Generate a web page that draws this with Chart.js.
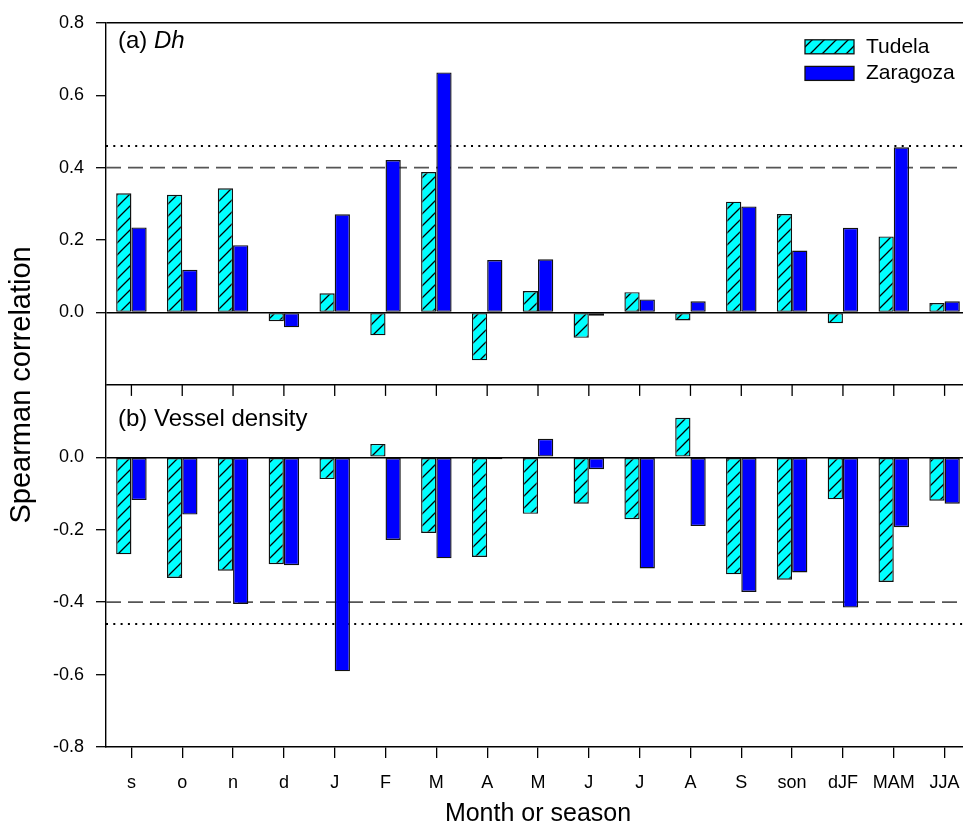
<!DOCTYPE html>
<html>
<head>
<meta charset="utf-8">
<script src="https://cdn.jsdelivr.net/npm/chart.js@4.4.1/dist/chart.umd.min.js"></script>
<style>
  html, body { margin: 0; padding: 0; background: #fff; overflow: hidden; }
  #chart { display: block; }
</style>
</head>
<body>
<canvas id="chart" width="980" height="834"></canvas>
<script>
const months = ['s', 'o', 'n', 'd', 'J', 'F', 'M', 'A', 'M', 'J', 'J', 'A', 'S', 'son', 'dJF', 'MAM', 'JJA'];

// (a) Dh
const dhTudela   = [0.329, 0.325, 0.343, -0.024, 0.053, -0.063, 0.388, -0.132, 0.059, -0.070, 0.056, -0.022, 0.306, 0.272, -0.030, 0.210, 0.026];
const dhZaragoza = [0.235, 0.118, 0.186, -0.041, 0.271, 0.421, 0.663, 0.145, 0.147, -0.009, 0.036, 0.031, 0.293, 0.171, 0.234, 0.456, 0.031];

// (b) Vessel density
const vdTudela   = [-0.268, -0.333, -0.313, -0.295, -0.060, 0.037, -0.209, -0.275, -0.156, -0.128, -0.171, 0.109, -0.323, -0.338, -0.116, -0.344, -0.120];
const vdZaragoza = [-0.118, -0.158, -0.405, -0.298, -0.591, -0.228, -0.279, -0.005, 0.051, -0.033, -0.307, -0.190, -0.372, -0.318, -0.415, -0.193, -0.128];

// significance levels (dashed, dotted)
const sigDashed = 0.40;
const sigDotted = 0.46;

const FONT = "'Liberation Sans', Arial, sans-serif";
Chart.defaults.font.family = FONT;
Chart.defaults.color = '#000';

const canvas = document.getElementById('chart');
const ctx = canvas.getContext('2d');

// cyan with black "/" hatching, like the Tudela bars
function hatchPattern() {
  const c = document.createElement('canvas');
  c.width = 12; c.height = 12;
  const g = c.getContext('2d');
  g.fillStyle = '#00ffff';
  g.fillRect(0, 0, 12, 12);
  g.strokeStyle = '#000';
  g.lineWidth = 1.3;
  g.beginPath();
  g.moveTo(0, 12); g.lineTo(12, 0);
  g.moveTo(-1, 1); g.lineTo(1, -1);
  g.moveTo(11, 13); g.lineTo(13, 11);
  g.stroke();
  return ctx.createPattern(c, 'repeat');
}
const hatch = hatchPattern();

const tenth = v => Math.round(v * 10);
const clear = 'rgba(0,0,0,0)';

function tickLabel(skip) {
  return v => {
    const t = tenth(v);
    if (t % 2 !== 0 || t === skip) return '';
    return (t / 10).toFixed(1);
  };
}

function yScale(min, max, skip, lines, weight) {
  return {
    type: 'linear',
    position: 'left',
    stack: 'panels',
    weight: weight,
    min: min,
    max: max,
    ticks: { stepSize: 0.1, callback: tickLabel(skip), padding: 12, font: { size: 18 }, color: '#000' },
    grid: {
      color: c => lines.includes(tenth(c.tick.value)) ? '#000' : clear,
      tickColor: c => {
        const t = tenth(c.tick.value);
        return (t % 2 === 0 && t !== skip) ? '#000' : clear;
      },
      lineWidth: 1.4,
      tickWidth: 1.3,
      tickLength: 10
    },
    border: { color: '#000', width: 1.4 },
    afterFit: s => { s.width = 106; }
  };
}

const barStyle = { borderColor: '#111', borderWidth: 1.4, borderSkipped: false };

const decor = {
  id: 'decor',
  beforeDatasetsDraw(chart) {
    const { ctx, chartArea, scales } = chart;
    ctx.save();
    [[scales.yA, 1], [scales.yB, -1]].forEach(([s, sign]) => {
      let y = s.getPixelForValue(sign * sigDashed);
      ctx.setLineDash([15, 7]);
      ctx.strokeStyle = '#555';
      ctx.lineWidth = 1.6;
      ctx.beginPath(); ctx.moveTo(chartArea.left, y); ctx.lineTo(chartArea.right, y); ctx.stroke();
      y = s.getPixelForValue(sign * sigDotted);
      ctx.setLineDash([2, 5.3]);
      ctx.strokeStyle = '#000';
      ctx.lineWidth = 2;
      ctx.beginPath(); ctx.moveTo(chartArea.left, y); ctx.lineTo(chartArea.right, y); ctx.stroke();
    });
    ctx.restore();
  },
  afterDraw(chart) {
    const { ctx, chartArea, scales } = chart;
    const { x, yA, yB } = scales;
    ctx.save();
    ctx.strokeStyle = '#000';
    ctx.lineWidth = 1.3;

    // minor ticks on the y axes
    [yA, yB].forEach(s => {
      s.ticks.forEach(t => {
        if (tenth(t.value) % 2 === 0) return;
        const y = s.getPixelForValue(t.value);
        ctx.beginPath(); ctx.moveTo(s.right - 6, y); ctx.lineTo(s.right, y); ctx.stroke();
      });
    });

    // x ticks under the upper panel
    x.ticks.forEach((t, i) => {
      const px = x.getPixelForTick(i);
      ctx.beginPath(); ctx.moveTo(px, yA.bottom); ctx.lineTo(px, yA.bottom + 11); ctx.stroke();
    });

    // panel labels
    ctx.fillStyle = '#000';
    ctx.textBaseline = 'middle';
    ctx.textAlign = 'left';
    ctx.font = '24px ' + FONT;
    const lx = chartArea.left + 12;
    ctx.fillText('(a) ', lx, yA.top + 19);
    const w = ctx.measureText('(a) ').width;
    ctx.font = 'italic 24px ' + FONT;
    ctx.fillText('Dh', lx + w, yA.top + 19);
    ctx.font = '24px ' + FONT;
    ctx.fillText('(b) Vessel density', lx, yB.top + 34);

    // legend
    ctx.font = '21px ' + FONT;
    chart.data.datasets.slice(0, 2).forEach((ds, i) => {
      const bx = chartArea.right - 165;
      const by = chartArea.top + 17 + i * 26.6;
      ctx.fillStyle = ds.backgroundColor;
      ctx.fillRect(bx, by, 49, 14);
      ctx.strokeStyle = '#111';
      ctx.lineWidth = 1.3;
      ctx.strokeRect(bx, by, 49, 14);
      ctx.fillStyle = '#000';
      ctx.fillText(ds.label, bx + 61, by + 7);
    });

    // shared y title
    ctx.translate(22, (chartArea.top + chartArea.bottom) / 2);
    ctx.rotate(-Math.PI / 2);
    ctx.textAlign = 'center';
    ctx.font = '29px ' + FONT;
    ctx.fillText('Spearman correlation', 0, 0);
    ctx.restore();
  }
};

new Chart(ctx, {
  type: 'bar',
  data: {
    labels: months,
    datasets: [
      { label: 'Tudela', data: dhTudela, yAxisID: 'yA', stack: 'T', backgroundColor: hatch, ...barStyle },
      { label: 'Zaragoza', data: dhZaragoza, yAxisID: 'yA', stack: 'Z', backgroundColor: '#0000ff', ...barStyle },
      { label: 'Tudela', data: vdTudela, yAxisID: 'yB', stack: 'T', backgroundColor: hatch, ...barStyle },
      { label: 'Zaragoza', data: vdZaragoza, yAxisID: 'yB', stack: 'Z', backgroundColor: '#0000ff', ...barStyle }
    ]
  },
  options: {
    responsive: false,
    animation: false,
    events: [],
    devicePixelRatio: 1,
    categoryPercentage: 0.6,
    barPercentage: 1.0,
    layout: { padding: { left: 0, top: 19, right: 10, bottom: 0 } },
    plugins: { legend: { display: false }, tooltip: { enabled: false } },
    scales: {
      x: {
        offset: true,
        grid: { offset: false, drawOnChartArea: false, tickLength: 11, color: '#000', lineWidth: 1.3 },
        border: { color: '#000', width: 1.4 },
        ticks: { font: { size: 18 }, color: '#000', padding: 14, autoSkip: false, maxRotation: 0 },
        title: { display: true, text: 'Month or season', font: { size: 25 }, color: '#000', padding: { top: 0, bottom: 5 } },
        afterFit: s => { s.height = 87; }
      },
      yA: yScale(-0.2, 0.8, -2, [8, 0, -2], 1),
      yB: yScale(-0.8, 0.2, 2, [0], 0)
    }
  },
  plugins: [decor]
});
</script>
</body>
</html>
